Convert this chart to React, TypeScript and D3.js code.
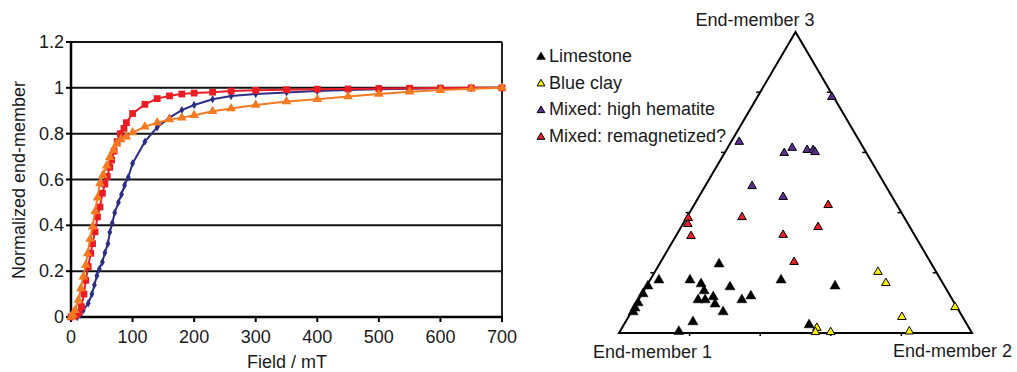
import React, { useEffect } from 'react';
import * as d3 from 'd3';

// left panel: normalized end-members vs field
const xTickValues = [0, 100, 200, 300, 400, 500, 600, 700];
const yTickValues = [0, 0.2, 0.4, 0.6, 0.8, 1, 1.2];
const yTickLabels = ['0', '0.2', '0.4', '0.6', '0.8', '1', '1.2'];

const blueField = [0, 10, 15, 20, 28, 34, 38, 42, 46, 51, 55, 60, 63, 67, 71, 77, 82, 87, 93, 100, 120, 140, 160, 180, 200, 230, 260, 300, 350, 400, 450, 500, 550, 600, 650, 700];
const blueValue = [0, 0, 0.01, 0.03, 0.06, 0.1, 0.14, 0.18, 0.21, 0.24, 0.28, 0.32, 0.37, 0.41, 0.455, 0.5, 0.535, 0.575, 0.61, 0.67, 0.765, 0.828, 0.87, 0.903, 0.925, 0.95, 0.964, 0.973, 0.98, 0.986, 0.99, 0.994, 0.996, 0.998, 0.999, 1];

const redField = [0, 5, 9, 13, 17, 21, 24, 28, 32, 35, 39, 43, 47, 51, 55, 59, 63, 66, 70, 75, 80, 86, 90, 100, 120, 140, 160, 180, 200, 230, 260, 300, 350, 400, 450, 500, 550, 600, 650, 700];
const redValue = [0, 0.005, 0.01, 0.02, 0.045, 0.1, 0.16, 0.22, 0.278, 0.32, 0.372, 0.437, 0.48, 0.54, 0.58, 0.613, 0.653, 0.685, 0.724, 0.765, 0.8, 0.823, 0.848, 0.888, 0.928, 0.953, 0.965, 0.973, 0.977, 0.981, 0.986, 0.989, 0.992, 0.994, 0.995, 0.997, 0.998, 0.999, 1, 1];

const orangeField = [0, 3, 6.5, 12, 16, 20, 24, 27, 31, 35, 39, 43, 47, 52, 58, 63, 69, 74, 81, 90, 100, 120, 140, 160, 180, 200, 230, 260, 300, 350, 400, 450, 500, 550, 600, 650, 700];
const orangeValue = [0, 0.01, 0.03, 0.074, 0.125, 0.176, 0.227, 0.277, 0.34, 0.394, 0.46, 0.52, 0.583, 0.62, 0.66, 0.697, 0.728, 0.755, 0.775, 0.787, 0.805, 0.83, 0.848, 0.862, 0.87, 0.88, 0.898, 0.91, 0.925, 0.94, 0.95, 0.962, 0.973, 0.983, 0.99, 0.996, 1];

// right panel: ternary, [% end-member 2, % end-member 3], end-member 1 = rest
const limestone = [
  [16.9, 22.9], [2.5, 17.6], [0.4, 15.6], [0.3, 13.0], [0.4, 10.0], [0.4, 8.3], [0.5, 7.0],
  [11.3, 17.6], [15.1, 16.3], [17.1, 14.0], [16.9, 11.0], [18.9, 11.0], [20.7, 12.0], [22.4, 9.6],
  [26.0, 7.0], [23.8, 15.3], [29.3, 11.0], [31.2, 12.3], [37.1, 17.6], [19.1, 3.7], [16.7, 0.5],
  [52.5, 2.7], [53.4, 15.6],
];
const blueClay = [
  [63.2, 20.3], [67.3, 16.6], [77.5, 5.3], [82.0, 0.5], [90.9, 8.6], [55.2, 1.7], [55.5, 0.3], [59.8, 0.3],
];
const highHematite = [
  [2.3, 63.5], [16.9, 59.8], [18.3, 61.5], [22.9, 60.8], [24.6, 60.8], [25.5, 60.1], [21.1, 78.4], [13.3, 48.8], [23.9, 45.2],
];
const remagnetized = [
  [0.5, 38.2], [1.4, 36.2], [4.3, 32.2], [15.6, 38.5], [30.2, 32.6], [37.8, 23.6], [38.0, 42.5], [38.8, 35.2],
];
const groupNames = ['Limestone', 'Blue clay', 'Mixed: high hematite', 'Mixed: remagnetized?'];
const groupColors = ['#000000', '#fff200', '#5b2d90', '#e8202a'];
const groupData = [limestone, blueClay, highHematite, remagnetized];

const font = '"Liberation Sans", Arial, sans-serif';
const textColor = '#1a1a1a';
const fs = 18;

const App = () => {
  useEffect(() => {
    document.body.style.margin = '0';
  }, []);

  const x = d3.scaleLinear().domain([0, 700]).range([71, 502]);
  const y = d3.scaleLinear().domain([0, 1.2]).range([317, 42]);

  const line = d3.line<[number, number]>()
    .x(d => x(d[0]))
    .y(d => y(d[1]));

  const series = [
    { field: blueField, value: blueValue, color: '#2b2f86', symbol: d3.symbolDiamond, size: 20 },
    { field: redField, value: redValue, color: '#ec1c24', symbol: d3.symbolSquare, size: 46 },
    { field: orangeField, value: orangeValue, color: '#f47a22', symbol: d3.symbolTriangle, size: 40 },
  ];

  // ternary scales
  const tx = d3.scaleLinear().domain([0, 1]).range([619, 972]);
  const ty = d3.scaleLinear().domain([0, 1]).range([333, 32]);
  const tern = (b: number, c: number): [number, number] => [tx(b + c / 2), ty(c)];
  const L = tern(0, 0), R = tern(1, 0), T = tern(0, 1);
  const frac = [0.2, 0.4, 0.6, 0.8];

  const tri = (size: number) => d3.symbol().type(d3.symbolTriangle).size(size)();

  return (
    <svg width={1017} height={372} style={{ display: 'block', background: '#fff' }} fontFamily={font}>
      {/* left chart grid */}
      {yTickValues.slice(1).map(v => (
        <line key={v} x1={x(0)} x2={x(700)} y1={y(v)} y2={y(v)} stroke="#111" strokeWidth={2} />
      ))}
      <line x1={x(700)} x2={x(700)} y1={y(1.2)} y2={y(0)} stroke="#222" strokeWidth={2} />
      <line x1={x(0)} x2={x(0)} y1={y(1.2) - 1} y2={y(0) + 1} stroke="#000" strokeWidth={2.5} />
      <line x1={x(0) - 1} x2={x(700) + 1} y1={y(0)} y2={y(0)} stroke="#000" strokeWidth={2.5} />
      {yTickValues.map((v, i) => (
        <g key={v}>
          <line x1={x(0) - 5} x2={x(0)} y1={y(v)} y2={y(v)} stroke="#000" strokeWidth={2} />
          <text x={64} y={y(v) + 6} textAnchor="end" fontSize={fs} fill={textColor}>{yTickLabels[i]}</text>
        </g>
      ))}
      {xTickValues.map(v => (
        <g key={v}>
          <line x1={x(v)} x2={x(v)} y1={y(0)} y2={y(0) + 5} stroke="#000" strokeWidth={2} />
          <text x={x(v)} y={343} textAnchor="middle" fontSize={fs} fill={textColor}>{v}</text>
        </g>
      ))}
      <text x={287} y={368} textAnchor="middle" fontSize={fs} fill={textColor}>Field / mT</text>
      <text transform="translate(25,180) rotate(-90)" textAnchor="middle" fontSize={fs} fill={textColor}>Normalized end-member</text>

      {series.map((s, si) => {
        const pts = s.field.map((f, i) => [f, s.value[i]] as [number, number]);
        const sym = d3.symbol().type(s.symbol).size(s.size)();
        return (
          <g key={si}>
            <path d={line(pts) || ''} fill="none" stroke={s.color} strokeWidth={2} />
            {pts.map((p, i) => (
              <path key={i} d={sym || ''} transform={`translate(${x(p[0])},${y(p[1])})`} fill={s.color} />
            ))}
          </g>
        );
      })}

      {/* ternary frame */}
      <path d={`M${L[0]},${L[1]}L${R[0]},${R[1]}L${T[0]},${T[1]}Z`} fill="none" stroke="#000" strokeWidth={2} strokeLinejoin="miter" />
      {frac.map(f => {
        const b = tern(f, 0), l = tern(0, f), r = tern(1 - f, f);
        return (
          <g key={f}>
            <line x1={b[0]} x2={b[0]} y1={b[1]} y2={b[1] + 3} stroke="#000" strokeWidth={1.5} />
            <line x1={l[0] - 4} x2={l[0]} y1={l[1]} y2={l[1]} stroke="#000" strokeWidth={1.5} />
            <line x1={r[0] - 4} x2={r[0]} y1={r[1]} y2={r[1]} stroke="#000" strokeWidth={1.5} />
          </g>
        );
      })}
      <text x={755} y={26} textAnchor="middle" fontSize={fs} fill={textColor}>End-member 3</text>
      <text x={593} y={358} fontSize={fs} fill={textColor}>End-member 1</text>
      <text x={893} y={357} fontSize={fs} fill={textColor}>End-member 2</text>

      {groupData.map((g, gi) => (
        <g key={gi}>
          {g.map((p, i) => {
            const [px, py] = tern(p[0] / 100, p[1] / 100);
            return (
              <path key={i} d={tri(gi === 0 ? 44 : 32) || ''} transform={`translate(${px},${py})`}
                fill={groupColors[gi]} stroke="#000" strokeWidth={gi === 0 ? 0.5 : 1} />
            );
          })}
        </g>
      ))}

      {/* legend */}
      {groupNames.map((name, i) => {
        const cy = 56 + i * 26.7;
        return (
          <g key={name}>
            <path d={tri(i === 0 ? 34 : 26) || ''} transform={`translate(541,${cy + 1})`}
              fill={groupColors[i]} stroke="#000" strokeWidth={i === 0 ? 0.5 : 1} />
            <text x={549} y={cy + 6} fontSize={fs} fill={textColor}>{name}</text>
          </g>
        );
      })}
    </svg>
  );
};

export default App;
